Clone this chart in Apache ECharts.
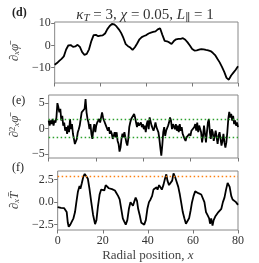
<!DOCTYPE html>
<html><head><meta charset="utf-8">
<script src="https://cdn.jsdelivr.net/npm/echarts@6/dist/echarts.min.js"></script>
<style>html,body{margin:0;padding:0;background:#fff}#c{width:259px;height:263px}</style>
</head><body><div id="c"></div>
<script>
// ---- data ----
const xTicks = [0, 20, 40, 60, 80];
const dTicks = [-10, 0, 10];
const eTicks = [-5, 0, 5];
const fTicks = [-2.5, 0, 2.5];
const eBand = 1.77;      // green dotted lines at +/- eBand
const fLimit = 2.92;     // orange dotted line

// panel (d): d_x phi, sampled at x = 0,1,...,80
const dVals = [-8.7,-7.9,-6.9,-6.0,-4.9,-1.8,0.1,0.2,-0.6,-0.4,
  0.3,-0.6,-3.0,-4.2,-3.8,-1.7,2.0,4.7,4.8,4.2,
  4.5,4.6,5.4,7.4,8.8,9.7,9.5,8.6,7.3,5.7,
  3.4,0.6,-0.3,-0.9,-2.0,-0.8,0.9,2.8,3.8,4.3,
  4.7,5.4,5.8,6.1,6.4,7.3,7.8,4.8,2.1,1.9,
  1.4,0.7,2.0,2.8,3.0,3.0,3.3,2.6,1.4,0.0,
  -1.6,-2.3,-2.2,-1.9,-1.6,-1.7,-2.0,-2.2,-2.5,-3.3,
  -4.3,-6.0,-7.6,-9.6,-11.9,-14.6,-15.4,-13.5,-12.2,-10.9,
  -9.4];

// panel (e): d2_x phi, evenly sampled over 0..80
const eVals = [1.6,0.6,1.6,0.9,1.9,0.6,1.6,1.2,2.2,5.0,
  4.2,3.2,3.9,1.6,2.5,0.6,1.2,-0.4,0.3,-1.0,
  0.6,-0.7,1.9,-0.1,0.9,-1.0,-2.0,-3.0,-2.8,-2.0,
  -0.7,-0.1,0.6,1.9,3.2,2.9,3.5,3.9,5.8,3.2,
  1.9,1.2,-0.1,0.9,-1.0,-2.0,-0.1,0.9,-0.7,0.6,
  1.2,0.9,1.9,1.2,2.2,3.2,2.2,1.6,1.9,0.6,
  0.9,-0.4,0.3,-1.0,-0.4,-1.0,-2.0,-1.4,-0.7,-1.7,
  -0.7,-2.4,-3.0,-4.5,-3.7,-2.0,-1.0,-1.7,-0.7,-1.7,
  -2.7,-3.3,-2.0,0.3,1.2,1.9,1.6,2.2,2.9,2.2,
  1.2,0.3,1.2,0.6,
  0.6,1.2,0.3,0.9,-0.1,0.6,-0.7,0.9,1.6,-0.1,
  2.2,1.9,0.6,0.9,-0.4,0.3,1.2,0.3,0.6,-0.7,
  -2.0,-3.7,-5.3,-3.3,-0.7,0.3,-1.4,-0.4,-0.7,0.6,
  1.2,2.2,1.6,-0.1,0.9,1.2,-0.1,0.9,-0.4,0.6,
  -0.7,0.9,-0.4,0.3,-1.0,-0.7,-2.0,-2.4,-1.7,-2.0,
  -1.4,-1.0,-1.4,-0.4,-0.1,-0.7,0.3,0.9,-0.4,1.2,
  -0.7,0.6,0.9,-0.7,-2.7,-1.4,0.6,-1.0,-2.7,-0.7,
  1.2,1.9,-0.7,-2.0,-0.1,-0.7,-2.4,-1.4,-0.4,-1.7,
  -3.0,-1.4,-0.7,-2.0,-3.3,-2.4,-1.0,-2.7,-3.7,-2.7,
  -0.7,1.9,3.3,2.2,2.9,1.6,2.5,0.9,1.6,0.6,
  1.2,0.3];

// panel (f): d_x T
const fX = [0,0.7,1.5,2.2,2.9,3.6,4,4.5,4.9,5.6,
  6.3,7,7.7,8.3,9,9.7,10.1,10.7,11.4,12,
  12.7,13.4,14.1,14.9,15.7,16.6,17.2,17.9,18.6,19.3,
  20,20.7,21.3,22,22.7,23.4,24.1,24.8,25.4,26.1,
  26.8,27.5,28.2,28.9,29.5,30.2,30.9,31.6,32.3,33,
  33.4,33.9,34.6,35.2,35.7,36.4,37.1,37.8,38.4,39.1,
  39.8,40.5,41.2,41.9,42.5,43.2,43.9,44.3,45,45.6,
  46.2,46.9,47.6,48.2,48.7,49.4,50.1,50.8,51.4,52.1,
  52.8,53.5,54.2,54.9,55.5,56.2,56.9,57.6,58.3,59,
  59.6,60.3,61,61.7,62.4,63.1,63.7,64.4,65.1,65.8,
  66.5,67.2,67.6,68.1,68.7,69.2,69.9,70.6,71.3,72,
  72.6,73.3,74,74.7,75.4,75.8,76.3,77,77.6,78.4,
  79.1,80];
const fY = [-0.56,-0.74,-0.63,-0.81,-0.67,-0.56,-1.09,-2.3,-2.75,-2.5,
  -2.3,-1.8,-1.1,0,1.2,1.8,1.5,2.1,2.85,3.15,
  2.95,2.6,1.5,0,-1.4,-2.45,-2.0,-0.4,0.85,1.4,
  1.55,1.3,1.9,1.7,1.55,1.65,1.45,1.55,1.3,1.0,
  0.7,0.3,-0.74,-1.8,-2.15,-2.5,-2.0,-0.74,0,0.03,
  -0.4,0,0.5,0.15,-0.74,-1.45,-2.3,-2.5,-2.5,-2.0,
  -0.74,0,0.3,0.7,1.4,1.55,1.65,1.4,1.9,1.7,
  1.4,1.9,2.6,3.1,2.4,1.9,2.1,2.4,3.2,2.8,
  2.25,1.7,0.85,-0.2,-1.1,-1.8,-2.4,-2.3,-1.8,-0.9,
  0,0.7,1.2,1.1,1.0,1.0,0.85,0.85,0,-1.1,
  -1.45,-1.8,-2.4,-1.8,-2.6,-2.0,-1.6,-1.45,-1.1,-1.1,
  -0.74,0,0.5,1.4,2.15,2.25,1.7,0.7,0.3,0.15,
  0,-0.3];

// ---- chart ----
const SERIF = '"Liberation Serif","DejaVu Serif",serif';
const xMax = 80;
const dData = dVals.map((v, i) => [i * xMax / (dVals.length - 1), v]);
const eData = eVals.map((v, i) => [i * xMax / (eVals.length - 1), v]);
const fData = fX.map((x, i) => [x, fY[i]]);

const minus = v => (v < 0 ? '\u2212' + Math.abs(v) : String(v));
const minus1 = v => (v < 0 ? '\u2212' + Math.abs(v).toFixed(1) : v.toFixed(1));

const rich = {
  i: { fontFamily: SERIF, fontStyle: 'italic', fontWeight: 'normal', fontSize: 13, color: '#444' },
  n: { fontFamily: SERIF, fontWeight: 'normal', fontSize: 13, color: '#444' },
  s: { fontFamily: SERIF, fontStyle: 'italic', fontWeight: 'normal', fontSize: 9, color: '#444', padding: [4, 0, 0, 0] },
  u: { fontFamily: SERIF, fontWeight: 'normal', fontSize: 9, color: '#444', padding: [0, 0, 4, 0] }
};

function xAx(i, labels) {
  return {
    type: 'value', gridIndex: i, min: 0, max: xMax, interval: 20,
    axisLine: { show: false, onZero: false },
    axisTick: { show: true, length: 3.5, lineStyle: { color: '#777', width: 1 } },
    splitLine: { show: false },
    axisLabel: { show: labels, fontFamily: SERIF, fontSize: 12, color: '#333', margin: 5 },
    name: labels ? '{n|Radial position, }{i|x}' : '',
    nameLocation: 'middle', nameGap: 19,
    nameTextStyle: { rich: rich }
  };
}
function yAx(i, min, max, ticks, fmt, name, gap) {
  return {
    type: 'value', gridIndex: i, min: min, max: max,
    axisLine: { show: false, onZero: false },
    axisTick: { show: true, length: 3.5, customValues: ticks, lineStyle: { color: '#777', width: 1 } },
    splitLine: { show: false },
    axisLabel: { customValues: ticks, formatter: fmt, fontFamily: SERIF, fontSize: 12, color: '#333', margin: 4 },
    name: name, nameLocation: 'middle', nameRotate: 90, nameGap: gap,
    nameTextStyle: { rich: rich }
  };
}

const chart = echarts.init(document.getElementById('c'), null, { renderer: 'canvas' });
chart.setOption({
  animation: false,
  backgroundColor: '#fff',
  title: {
    text: '{i|\u03ba}{s|T}{n| = 3, }{i|\u03c7}{n| = 0.05, }{i|L}{s|\u2225}{n| = 1}',
    left: 140, top: 2, textAlign: 'center',
    textStyle: { fontWeight: 'normal', rich: {
      i: { fontFamily: SERIF, fontStyle: 'italic', fontWeight: 'normal', fontSize: 15, color: '#333' },
      n: { fontFamily: SERIF, fontWeight: 'normal', fontSize: 15, color: '#333' },
      s: { fontFamily: SERIF, fontStyle: 'italic', fontWeight: 'normal', fontSize: 11, color: '#333', padding: [6, 0, 0, 0] }
    } }
  },
  grid: [
    { left: 43, width: 195, top: 22, height: 61, show: true, borderColor: '#888', borderWidth: 1, backgroundColor: 'transparent' },
    { left: 43, width: 195, top: 95, height: 63, show: true, borderColor: '#888', borderWidth: 1, backgroundColor: 'transparent' },
    { left: 43, width: 195, top: 171, height: 62, show: true, borderColor: '#888', borderWidth: 1, backgroundColor: 'transparent' }
  ],
  xAxis: [xAx(0, false), xAx(1, false), xAx(2, true)],
  yAxis: [
    yAx(0, -16.9, 10.6, dTicks, minus, '{i|\u2202}{s|x}{i|\u03c6\u0304}', 20),
    yAx(1, -5.75, 6.6, eTicks, minus, '{i|\u2202}{u|2}{s|x}{i|\u03c6\u0304}', 22),
    yAx(2, -3.1, 3.47, fTicks, minus1, '{i|\u2202}{s|x}{i|T\u0304}', 27)
  ],
  graphic: [
    { type: 'text', left: 12, top: 7, style: { text: '(d)', font: 'bold 12px ' + SERIF, fill: '#222' } },
    { type: 'text', left: 12, top: 95, style: { text: '(e)', font: '12px ' + SERIF, fill: '#222' } },
    { type: 'text', left: 12, top: 162, style: { text: '(f)', font: '12px ' + SERIF, fill: '#222' } }
  ],
  series: [
    { type: 'line', xAxisIndex: 0, yAxisIndex: 0, data: dData, showSymbol: false, symbol: 'none',
      lineStyle: { color: '#000', width: 1.8 }, z: 3 },
    { type: 'line', xAxisIndex: 1, yAxisIndex: 1, data: eData, showSymbol: false, symbol: 'none',
      lineStyle: { color: '#000', width: 1.8 }, z: 3,
      markLine: { silent: true, symbol: 'none', label: { show: false },
        lineStyle: { color: '#2ca02c', type: [1.5, 2.5], width: 1.3 },
        data: [{ yAxis: eBand }, { yAxis: -eBand }] } },
    { type: 'line', xAxisIndex: 2, yAxisIndex: 2, data: fData, showSymbol: false, symbol: 'none',
      lineStyle: { color: '#000', width: 1.8 }, z: 3,
      markLine: { silent: true, symbol: 'none', label: { show: false },
        lineStyle: { color: '#ff7f0e', type: [1.5, 2.5], width: 1.3 },
        data: [{ yAxis: fLimit }] } }
  ]
});
</script></body></html>
